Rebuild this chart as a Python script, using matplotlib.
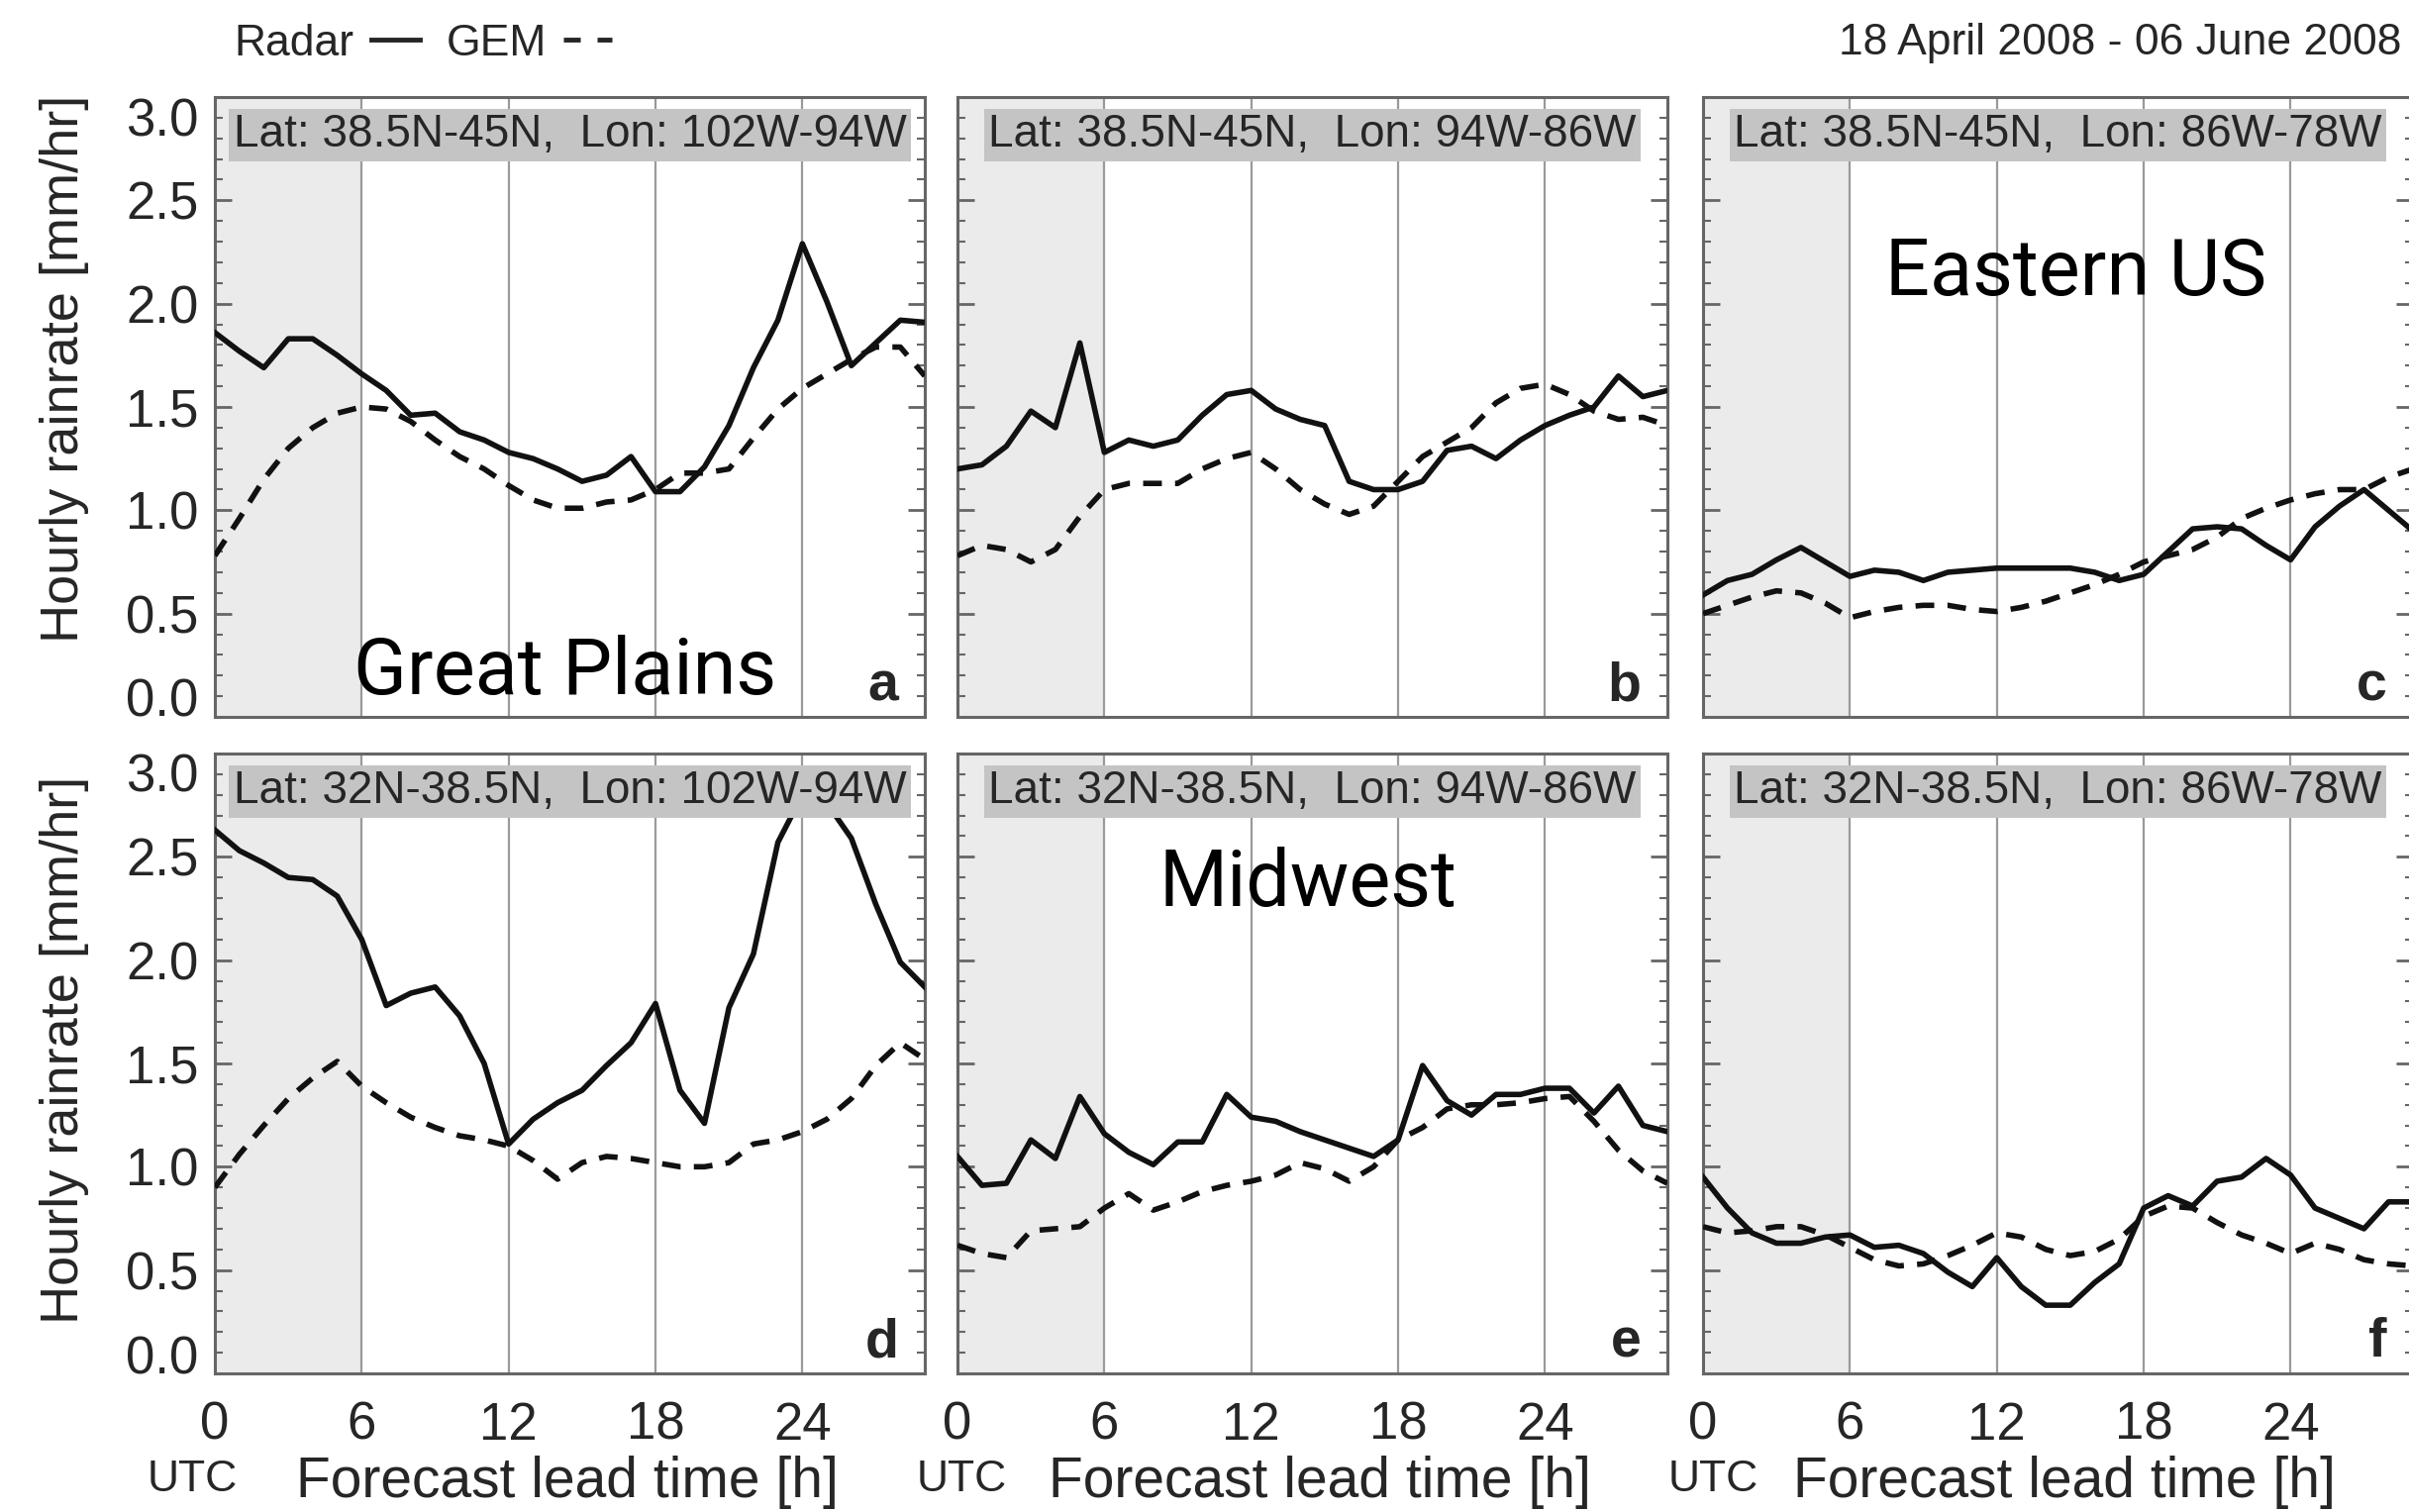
import numpy as np
import matplotlib
matplotlib.use("Agg")
import matplotlib.pyplot as plt
from matplotlib.lines import Line2D
from matplotlib.ticker import MultipleLocator

plt.rcParams['font.family'] = ['Liberation Sans', 'DejaVu Sans']

# Forecast lead time (hours after 00 UTC)
hours = np.arange(30)

# Mean hourly rain rate [mm/hr], radar observations (solid) and GEM forecasts (dashed)
radar_a = [1.86, 1.77, 1.69, 1.83, 1.83, 1.75, 1.66, 1.58, 1.46, 1.47, 1.38, 1.34, 1.28, 1.25, 1.20,
           1.14, 1.17, 1.26, 1.09, 1.09, 1.21, 1.41, 1.69, 1.92, 2.29, 2.01, 1.70, 1.81, 1.92, 1.91]
gem_a = [0.78, 0.96, 1.15, 1.30, 1.40, 1.47, 1.50, 1.49, 1.43, 1.34, 1.26, 1.20, 1.12, 1.05, 1.01,
         1.01, 1.04, 1.05, 1.10, 1.18, 1.18, 1.20, 1.35, 1.49, 1.59, 1.66, 1.73, 1.79, 1.79, 1.65]

radar_b = [1.20, 1.22, 1.31, 1.48, 1.40, 1.81, 1.28, 1.34, 1.31, 1.34, 1.46, 1.56, 1.58, 1.49, 1.44,
           1.41, 1.14, 1.10, 1.10, 1.14, 1.29, 1.31, 1.25, 1.34, 1.41, 1.46, 1.50, 1.65, 1.55, 1.58]
gem_b = [0.78, 0.83, 0.81, 0.75, 0.81, 0.97, 1.10, 1.13, 1.13, 1.13, 1.20, 1.25, 1.28, 1.20, 1.10,
         1.03, 0.98, 1.02, 1.14, 1.26, 1.33, 1.40, 1.52, 1.59, 1.61, 1.56, 1.48, 1.44, 1.45, 1.41]

radar_c = [0.59, 0.66, 0.69, 0.76, 0.82, 0.75, 0.68, 0.71, 0.70, 0.66, 0.70, 0.71, 0.72, 0.72, 0.72,
           0.72, 0.70, 0.66, 0.69, 0.80, 0.91, 0.92, 0.91, 0.83, 0.76, 0.92, 1.02, 1.10, 1.00, 0.90]
gem_c = [0.50, 0.54, 0.58, 0.61, 0.60, 0.55, 0.48, 0.51, 0.53, 0.54, 0.54, 0.52, 0.51, 0.53, 0.56,
         0.60, 0.64, 0.69, 0.75, 0.78, 0.81, 0.87, 0.96, 1.01, 1.05, 1.08, 1.10, 1.10, 1.16, 1.20]

radar_d = [2.63, 2.53, 2.47, 2.40, 2.39, 2.31, 2.10, 1.78, 1.84, 1.87, 1.73, 1.50, 1.11, 1.23, 1.31,
           1.37, 1.49, 1.60, 1.79, 1.37, 1.21, 1.77, 2.03, 2.57, 2.80, 2.76, 2.59, 2.27, 1.99, 1.87]
gem_d = [0.90, 1.06, 1.20, 1.33, 1.43, 1.51, 1.39, 1.31, 1.24, 1.19, 1.15, 1.13, 1.10, 1.03, 0.94,
         1.02, 1.05, 1.04, 1.02, 1.00, 1.00, 1.02, 1.11, 1.13, 1.17, 1.23, 1.33, 1.49, 1.60, 1.52]

radar_e = [1.05, 0.91, 0.92, 1.13, 1.04, 1.34, 1.16, 1.07, 1.01, 1.12, 1.12, 1.35, 1.24, 1.22, 1.17,
           1.13, 1.09, 1.05, 1.13, 1.49, 1.32, 1.25, 1.35, 1.35, 1.38, 1.38, 1.26, 1.39, 1.20, 1.17]
gem_e = [0.62, 0.58, 0.56, 0.69, 0.70, 0.71, 0.80, 0.87, 0.79, 0.83, 0.88, 0.91, 0.93, 0.96, 1.02,
         0.99, 0.93, 1.00, 1.13, 1.19, 1.28, 1.30, 1.30, 1.31, 1.33, 1.34, 1.22, 1.08, 0.98, 0.92]

radar_f = [0.95, 0.80, 0.68, 0.63, 0.63, 0.66, 0.67, 0.61, 0.62, 0.58, 0.49, 0.42, 0.56, 0.42, 0.33,
           0.33, 0.44, 0.53, 0.80, 0.86, 0.81, 0.93, 0.95, 1.04, 0.96, 0.80, 0.75, 0.70, 0.83, 0.83]
gem_f = [0.71, 0.68, 0.69, 0.71, 0.71, 0.67, 0.61, 0.55, 0.52, 0.53, 0.57, 0.62, 0.68, 0.66, 0.60,
         0.57, 0.59, 0.65, 0.76, 0.81, 0.80, 0.73, 0.67, 0.63, 0.58, 0.63, 0.60, 0.55, 0.53, 0.52]

radar_series = [radar_a, radar_b, radar_c, radar_d, radar_e, radar_f]
gem_series = [gem_a, gem_b, gem_c, gem_d, gem_e, gem_f]

region_labels = [
    "Lat: 38.5N-45N,  Lon: 102W-94W",
    "Lat: 38.5N-45N,  Lon: 94W-86W",
    "Lat: 38.5N-45N,  Lon: 86W-78W",
    "Lat: 32N-38.5N,  Lon: 102W-94W",
    "Lat: 32N-38.5N,  Lon: 94W-86W",
    "Lat: 32N-38.5N,  Lon: 86W-78W",
]
panel_letters = ["a", "b", "c", "d", "e", "f"]
region_names = ["Great Plains", None, "Eastern US", None, "Midwest", None]

xticks = [0, 6, 12, 18, 24]
xtick_labels = ["0", "6", "12", "18", "24"]
yticks = [0.0, 0.5, 1.0, 1.5, 2.0, 2.5, 3.0]
ytick_labels = ["0.0", "0.5", "1.0", "1.5", "2.0", "2.5", "3.0"]

TXT = "#262626"
FRAME = "#666666"

W, H = 2433, 1527
fig = plt.figure(figsize=(W / 100, H / 100), dpi=100)

col_left = [217, 967, 1720]
row_bottom = [724, 1387]
ax_w, ax_h = 717, 626

# where the large region names sit (data coordinates of the panel)
name_xy = {0: (5.66, 0.11), 2: (7.46, 2.04), 4: (8.25, 2.26)}

for i in range(6):
    r, c = divmod(i, 3)
    ax = fig.add_axes([col_left[c] / W, 1 - row_bottom[r] / H, ax_w / W, ax_h / H])
    ax.set_xlim(0, 29)
    ax.set_ylim(0, 3)

    # early lead-time (spin-up) window
    ax.axvspan(0, 6, color="#ebebeb", lw=0, zorder=0.2)
    for xv in xticks[1:]:
        ax.axvline(xv, color="#9a9a9a", lw=1.6, zorder=0.5)

    ax.plot(hours, radar_series[i], color="#111111", lw=4, zorder=3)
    ax.plot(hours, gem_series[i], color="#111111", lw=4, dashes=(3.4, 2.4), zorder=3)

    for sp in ax.spines.values():
        sp.set_color(FRAME)
        sp.set_linewidth(2.2)

    ax.set_xticks(xticks)
    ax.tick_params(axis="x", length=0, pad=20, labelsize=38, labelcolor=TXT)
    if r == 1:
        ax.set_xticklabels(xtick_labels)
    else:
        ax.set_xticklabels([])

    ax.set_yticks(yticks)
    ax.yaxis.set_minor_locator(MultipleLocator(0.1))
    ax.tick_params(axis="y", which="both", direction="in", left=True, right=True,
                   color=FRAME, labelsize=38, labelcolor=TXT, pad=12)
    ax.tick_params(axis="y", which="major", length=12, width=2)
    ax.tick_params(axis="y", which="minor", length=6, width=1.5)
    if c == 0:
        ax.set_yticklabels(ytick_labels)
        tls = ax.get_yticklabels()
        tls[0].set_verticalalignment("baseline")
        tls[-1].set_verticalalignment("top")
    else:
        ax.set_yticklabels([])

    ax.text(0.5, 0.939, region_labels[i], transform=ax.transAxes, ha="center", va="center",
            fontsize=33, color=TXT, zorder=5,
            bbox=dict(boxstyle="square,pad=0.1", fc="#c4c4c4", ec="none"))

    ax.text(0.963, 0.027, panel_letters[i], transform=ax.transAxes, ha="right", va="baseline",
            fontsize=40, fontweight="bold", color=TXT, zorder=5)

    if region_names[i]:
        nx, ny = name_xy[i]
        ax.text(nx, ny, region_names[i], ha="left", va="baseline", fontsize=57,
                family=["Roboto", "DejaVu Sans"], color="black", zorder=6)

# axis titles
for yc in (372, 1060):
    fig.text(65 / W, 1 - yc / H, "Hourly rainrate [mm/hr]", rotation=90, ha="center",
             va="center", fontsize=39, color=TXT)

for ux in (194, 971, 1730):
    fig.text(ux / W, 1 - 1494 / H, "UTC", ha="center", va="center", fontsize=32, color=TXT)
for fx in (573, 1333, 2085):
    fig.text(fx / W, 1 - 1497 / H, "Forecast lead time [h]", ha="center", va="center",
             fontsize=41, color=TXT)

# legend and period
handles = [Line2D([], [], color=TXT, lw=3.5),
           Line2D([], [], color=TXT, lw=3.5, dashes=(3.5, 3.5))]
fig.legend(handles=handles, labels=["Radar", "GEM"], loc="center left",
           bbox_to_anchor=(236 / W, 1 - 44 / H), ncol=2, markerfirst=False, frameon=False,
           handlelength=1.1, handletextpad=0.4, columnspacing=0.6, borderpad=0,
           borderaxespad=0, fontsize=32, labelcolor=TXT)

fig.text(2425 / W, 1 - 44 / H, "18 April 2008 - 06 June 2008", ha="right", va="center",
         fontsize=32, color=TXT)

fig.savefig("out.png", dpi=100)
